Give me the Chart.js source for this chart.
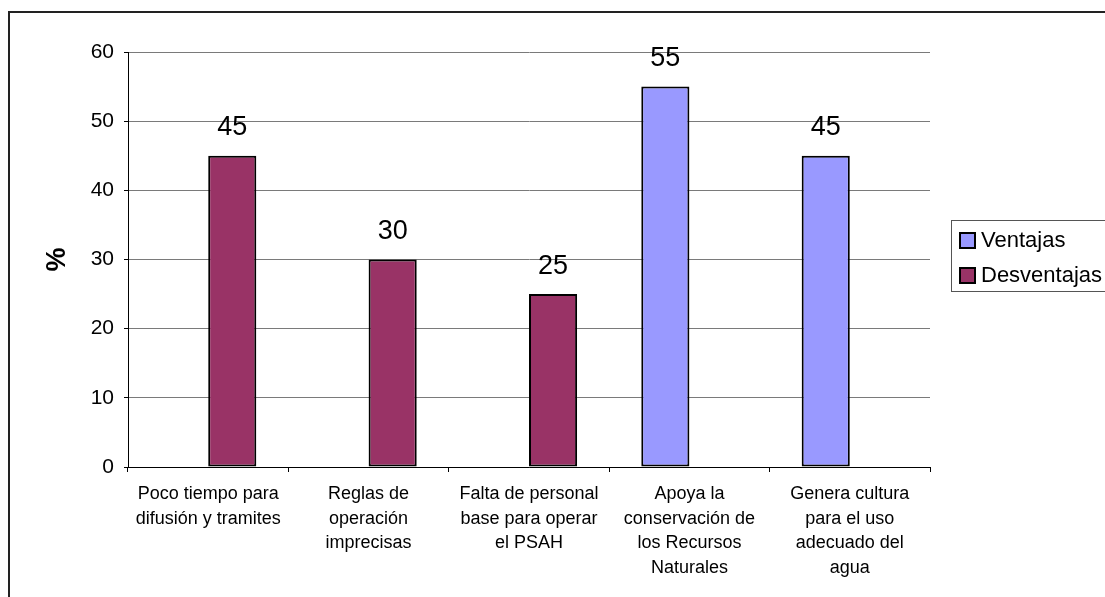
<!DOCTYPE html>
<html>
<head>
<meta charset="utf-8">
<script src="https://cdn.jsdelivr.net/npm/chart.js@4"></script>
<style>
  body { margin: 0; background: #fff; }
  canvas { display: block; }
</style>
</head>
<body>
<canvas id="grafica" width="1105" height="597"></canvas>
<script>
// categorias (cada una partida en lineas como en el original)
const categorias = [
    ['Poco tiempo para', 'difusión y tramites'],
    ['Reglas de', 'operación', 'imprecisas'],
    ['Falta de personal', 'base para operar', 'el PSAH'],
    ['Apoya la', 'conservación de', 'los Recursos', 'Naturales'],
    ['Genera cultura', 'para el uso', 'adecuado del', 'agua']
];
const ventajas = [null, null, null, 55, 45];
const desventajas = [45, 30, 25, null, null];
const yTicks = [0, 10, 20, 30, 40, 50, 60];

const FUENTE = "'Liberation Sans', Arial, sans-serif";

// etiquetas de valor encima de cada barra
const etiquetasPlugin = {
    id: 'etiquetas',
    afterDatasetsDraw(chart) {
        const ctx = chart.ctx;
        ctx.save();
        ctx.font = '27px ' + FUENTE;
        ctx.fillStyle = '#000';
        ctx.textAlign = 'center';
        ctx.textBaseline = 'middle';
        chart.data.datasets.forEach((ds, i) => {
            chart.getDatasetMeta(i).data.forEach((bar, j) => {
                const v = ds.data[j];
                if (v === null || v === undefined) return;
                ctx.fillText(String(v), bar.x, bar.y - 28);
            });
        });
        ctx.restore();
    }
};

// marco exterior (solo arriba e izquierda, el resto queda fuera de la imagen)
// y leyenda con recuadro
const marcoPlugin = {
    id: 'marco',
    afterDraw(chart) {
        const ctx = chart.ctx;
        ctx.save();
        ctx.strokeStyle = '#222';
        ctx.lineWidth = 2;
        ctx.beginPath();
        ctx.moveTo(9, 600);
        ctx.lineTo(9, 12);
        ctx.lineTo(1110, 12);
        ctx.stroke();

        // leyenda
        ctx.strokeStyle = '#555';
        ctx.lineWidth = 1;
        ctx.strokeRect(951.5, 220.5, 160, 71);
        ctx.font = '22px ' + FUENTE;
        ctx.textAlign = 'left';
        ctx.textBaseline = 'middle';
        chart.data.datasets.forEach((ds, i) => {
            const y = 240 + i * 35;
            ctx.fillStyle = ds.backgroundColor;
            ctx.fillRect(960, y - 7, 15, 15);
            ctx.strokeStyle = '#000';
            ctx.lineWidth = 2;
            ctx.strokeRect(960, y - 7, 15, 15);
            ctx.fillStyle = '#000';
            ctx.fillText(ds.label, 981, y + 1);
        });
        ctx.restore();
    }
};

new Chart(document.getElementById('grafica'), {
    type: 'bar',
    data: {
        labels: categorias,
        datasets: [
            {
                label: 'Ventajas',
                data: ventajas,
                backgroundColor: '#9999FF',
                borderColor: '#000',
                borderWidth: 2,
                borderSkipped: false,
                categoryPercentage: 0.6,
                barPercentage: 1
            },
            {
                label: 'Desventajas',
                data: desventajas,
                backgroundColor: '#993366',
                borderColor: '#000',
                borderWidth: 2,
                borderSkipped: false,
                categoryPercentage: 0.6,
                barPercentage: 1
            }
        ]
    },
    options: {
        responsive: false,
        animation: false,
        layout: { padding: { left: 41, top: 52, right: 175, bottom: 10 } },
        plugins: {
            legend: { display: false },
            tooltip: { enabled: false }
        },
        scales: {
            x: {
                afterFit(scale) { scale.height = 120; },
                grid: {
                    display: true,
                    drawOnChartArea: false,
                    drawTicks: true,
                    tickLength: 5,
                    color: '#000',
                    tickColor: '#000'
                },
                border: { display: true, color: '#000', width: 1 },
                ticks: {
                    color: '#000',
                    font: { family: FUENTE, size: 18, lineHeight: 1.36 },
                    padding: 10,
                    maxRotation: 0,
                    autoSkip: false
                }
            },
            y: {
                min: 0,
                max: 60,
                afterFit(scale) { scale.width = 87; },
                afterBuildTicks(scale) {
                    scale.ticks = yTicks.map(v => ({ value: v }));
                },
                grid: {
                    color: '#7a7a7a',
                    tickColor: '#000',
                    drawTicks: true,
                    tickLength: 4
                },
                border: { display: true, color: '#000', width: 1 },
                ticks: {
                    color: '#000',
                    font: { family: FUENTE, size: 21 },
                    padding: 10
                },
                title: {
                    display: true,
                    text: '%',
                    color: '#000',
                    font: { family: FUENTE, size: 27, weight: 'bold' },
                    padding: 0
                }
            }
        }
    },
    plugins: [etiquetasPlugin, marcoPlugin]
});
</script>
</body>
</html>
